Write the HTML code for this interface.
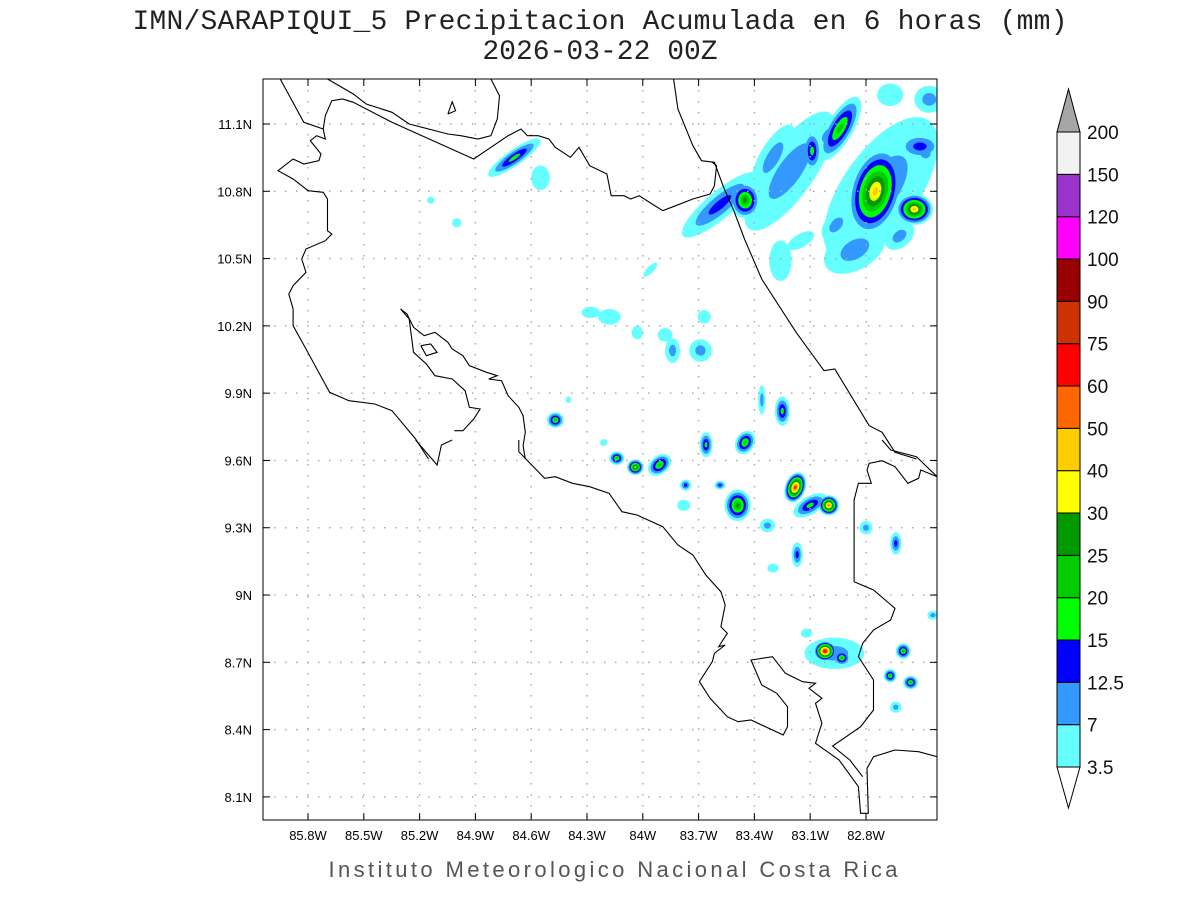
<!DOCTYPE html>
<html><head><meta charset="utf-8">
<style>
html,body{margin:0;padding:0;background:#fff;}
svg{display:block;font-family:"Liberation Sans",sans-serif;}
</style></head>
<body>
<svg id="chart" width="1200" height="900" viewBox="0 0 1200 900">
<text x="600" y="29" text-anchor="middle" font-size="28" fill="#222" font-family="Liberation Mono, monospace" textLength="935">IMN/SARAPIQUI_5 Precipitacion Acumulada en 6 horas (mm)</text>
<text x="600" y="59" text-anchor="middle" font-size="28" fill="#222" font-family="Liberation Mono, monospace">2026-03-22 00Z</text>
<text x="613" y="877" text-anchor="middle" font-size="22" fill="#555" textLength="569">Instituto Meteorologico Nacional Costa Rica</text>
<defs><clipPath id="plotclip"><rect x="263" y="79" width="674" height="741"/></clipPath></defs>
<g id="rain" clip-path="url(#plotclip)"></g>
<g id="grid"></g>
<g id="coast" clip-path="url(#plotclip)"></g>
<rect x="263" y="79" width="674" height="741" fill="none" stroke="#000" stroke-width="1"/>
<g id="axes"></g>
<g id="cbar"></g>
</svg>
<script>
const NS="http://www.w3.org/2000/svg";
// ---- axis tick data ----
const lonTicks=[85.8,85.5,85.2,84.9,84.6,84.3,84.0,83.7,83.4,83.1,82.8];
const lonLabels=["85.8W","85.5W","85.2W","84.9W","84.6W","84.3W","84W","83.7W","83.4W","83.1W","82.8W"];
const latTicks=[11.1,10.8,10.5,10.2,9.9,9.6,9.3,9.0,8.7,8.4,8.1];
const latLabels=["11.1N","10.8N","10.5N","10.2N","9.9N","9.6N","9.3N","9N","8.7N","8.4N","8.1N"];
// ---- colorbar data ----
const levelValues=["3.5","7","12.5","15","20","25","30","40","50","60","75","90","100","120","150","200"];
const levelColors=["#66ffff","#3399ff","#0000ff","#00ff00","#00cc00","#009900","#ffff00","#ffcc00","#ff6600","#ff0000","#cc3300","#990000","#ff00ff","#9933cc","#f2f2f2"];
// ---- precipitation cells: center lon (W), lat (N), radii (deg), rotation, peak level ----
const cellLon=[83.585,83.45,83.21,82.94,82.72,82.75,82.54,82.51,83.09,82.46,82.67,82.86,83.15,83.26,84.69,84.55,85.14,85.0,84.28,84.18,84.03,83.88,83.84,83.67,83.69,83.96,
84.47,84.14,84.04,83.91,83.66,83.45,83.49,83.25,83.18,83.0,83.1,83.17,83.33,82.8,82.64,83.02,82.93,82.97,82.6,82.67,82.56,82.64,83.12,82.44,83.77,83.585,83.78,83.36,84.21,84.4,83.3,82.96,82.62,
83.0,82.48,83.3];
const cellLat=[10.74,10.76,10.89,11.08,10.81,10.8,10.72,11.0,10.98,11.21,11.23,10.54,10.58,10.49,10.95,10.86,10.76,10.66,10.26,10.24,10.17,10.16,10.09,10.24,10.09,10.45,
9.78,9.61,9.57,9.58,9.67,9.68,9.40,9.82,9.48,9.40,9.40,9.18,9.31,9.30,9.23,8.75,8.72,8.74,8.75,8.64,8.61,8.50,8.83,8.91,9.49,9.49,9.40,9.87,9.68,9.87,9.12,10.65,10.60,
11.05,10.97,10.95];
const cellRx=[0.26,0.08,0.38,0.07,0.45,0.14,0.1,0.12,0.05,0.08,0.07,0.18,0.08,0.06,0.17,0.05,0.02,0.025,0.05,0.06,0.03,0.04,0.04,0.035,0.06,0.05,
0.045,0.04,0.045,0.07,0.035,0.05,0.07,0.04,0.055,0.055,0.1,0.03,0.04,0.035,0.03,0.06,0.045,0.16,0.04,0.035,0.04,0.03,0.03,0.03,0.03,0.03,0.035,0.02,0.02,0.015,0.03,0.1,0.09,
0.1,0.06,0.2];
const cellRy=[0.06,0.08,0.11,0.16,0.17,0.2,0.07,0.06,0.09,0.06,0.05,0.09,0.03,0.09,0.035,0.055,0.015,0.02,0.025,0.035,0.03,0.03,0.055,0.03,0.05,0.015,
0.035,0.03,0.035,0.04,0.055,0.055,0.07,0.065,0.07,0.045,0.04,0.055,0.03,0.03,0.05,0.045,0.035,0.07,0.035,0.03,0.03,0.025,0.02,0.02,0.025,0.02,0.025,0.065,0.015,0.015,0.02,0.05,0.05,
0.05,0.05,0.06];
const cellRot=[-40,0,-55,30,-55,15,0,0,0,0,0,-30,-30,0,-35,0,0,0,0,0,0,0,0,0,0,-45,
0,0,0,-40,0,30,0,0,20,0,-30,0,0,0,0,0,0,0,0,0,0,0,0,0,0,0,0,0,0,0,0,-50,-40,
-50,-50,-60];
const cellLevel=[3,6,2,5,2,8,8,3,4,2,1,2,1,1,4,1,1,1,1,1,1,1,2,1,2,1,
5,5,7,5,4,5,6,4,10,9,4,3,2,2,3,11,5,2,5,5,5,2,1,2,3,3,1,2,1,1,1,2,2,
2,2,2];

// ---- projection ----
const X0=308,DX=186,LON0=85.8;
const Y0=124,DY=224.3,LAT0=11.1;
function xs(lonW){return X0+(LON0-lonW)*DX;}
function ys(lat){return Y0+(LAT0-lat)*DY;}
function mk(tag,attrs,parent){const e=document.createElementNS(NS,tag);for(const k in attrs)e.setAttribute(k,attrs[k]);parent.appendChild(e);return e;}

// rain
const rain=document.getElementById('rain');
const maxL=Math.max(...cellLevel);
for(let k=1;k<=maxL;k++){
  for(let i=0;i<cellLon.length;i++){
    const L=cellLevel[i]; if(k>L) continue;
    const f=Math.pow((L-k+1)/L,1.1);
    const cx=xs(cellLon[i]),cy=ys(cellLat[i]);
    const e=mk('ellipse',{cx:cx,cy:cy,rx:cellRx[i]*DX*f,ry:cellRy[i]*DY*f,fill:levelColors[k-1],
      transform:`rotate(${cellRot[i]} ${cx} ${cy})`},rain);
    
    
  }
}

// grid + axes
const grid=document.getElementById('grid'),axes=document.getElementById('axes');
lonTicks.forEach((v,i)=>{
  const x=xs(v);
  const g=mk('line',{x1:x,y1:79,x2:x,y2:820,stroke:'#aaa','stroke-width':1.5,'stroke-dasharray':'1.5,9.5'},grid);
  
  
  mk('line',{x1:x,y1:820,x2:x,y2:813,stroke:'#000'},axes);
  mk('line',{x1:x,y1:79,x2:x,y2:86,stroke:'#000'},axes);
  const t=mk('text',{x:x,y:840,'text-anchor':'middle','font-size':13,fill:'#000'},axes);
  t.textContent=lonLabels[i];
  
  
});
latTicks.forEach((v,i)=>{
  const y=ys(v);
  const g=mk('line',{x1:263,y1:y,x2:937,y2:y,stroke:'#aaa','stroke-width':1.5,'stroke-dasharray':'1.5,9.5'},grid);
  
  
  mk('line',{x1:263,y1:y,x2:270,y2:y,stroke:'#000'},axes);
  mk('line',{x1:930,y1:y,x2:937,y2:y,stroke:'#000'},axes);
  const t=mk('text',{x:252,y:y+5,'text-anchor':'end','font-size':13,fill:'#000'},axes);
  t.textContent=latLabels[i];
  
  
});

// coastlines (zoom coords: x=263+zx/2.326, y=off+zy/3)
const Z1=[
 [[40,0],[95,130],[140,150],[145,180],[125,170],[110,185],[135,225],[130,245],[95,255],[70,240],[35,275],[70,300],[105,335],[140,340],[150,360],[150,455],[160,465],[145,485],[100,510],[90,540],[100,580],[70,620],[60,645],[70,690],[70,740],[100,810],[155,940],[200,965],[260,975],[300,995],[355,1080],[385,1140]],
 [[140,150],[145,110],[160,65],[185,60],[210,70],[300,130],[490,240],[570,170],[600,150],[615,170],[640,170],[665,180],[680,205],[715,235],[735,205],[760,260],[800,285],[810,350],[840,350],[855,360],[875,350],[905,375],[930,395],[960,380],[1000,360],[1040,345],[1050,320],[1055,260],[1045,250]],
 [[150,0],[210,45],[240,75],[300,100],[340,135],[430,165],[460,170],[500,180],[530,170],[545,120],[550,50],[530,0]],
 [[430,105],[440,68],[448,95],[430,105]],
 [[367,800],[390,795],[405,820],[380,830],[367,800]],
 [[955,0],[965,90],[1000,200],[1020,245],[1050,250],[1070,320],[1095,395],[1120,480],[1160,600],[1240,760],[1305,875],[1330,870],[1410,1040],[1440,1060],[1470,1120],[1520,1140]],
 [[320,690],[335,705],[350,745],[375,770],[400,760],[430,790],[440,810],[465,830],[480,860],[520,880],[545,890],[525,900],[555,905],[570,950],[595,985],[605,1010],[610,1060],[605,1100],[610,1140]],
 [[320,690],[340,720],[350,820],[380,855],[400,890],[440,900],[470,935],[480,985],[505,990],[490,1020],[465,1055],[445,1055]]
];
const Z2=[
 [[355,0],[405,75],[415,15],[440,0]],
 [[595,0],[595,35],[655,115],[680,110],[720,130],[760,140],[805,160],[835,215],[870,225],[930,260],[965,315],[1000,345],[1030,405],[1065,455],[1075,495],[1065,560],[1080,580],[1060,620],[1075,615],[1050,640],[1045,665],[1015,725],[1040,775],[1080,830],[1105,845],[1135,840],[1210,885],[1220,860],[1220,800],[1195,760],[1160,735],[1135,660],[1185,650],[1215,700],[1255,725],[1285,730],[1270,745],[1300,775],[1285,790],[1300,850],[1285,910],[1340,960],[1385,1040],[1390,1120],[1408,1120],[1405,985],[1420,950],[1470,930],[1525,935],[1568,950]],
 [[1375,425],[1375,180],[1385,130],[1415,130],[1405,90],[1410,70],[1440,62],[1470,80],[1500,130],[1525,115],[1530,90],[1568,110]],
 [[1375,425],[1420,450],[1470,505],[1460,540],[1420,570],[1395,610],[1385,650],[1420,720],[1420,810],[1390,860],[1325,918],[1365,960],[1395,1010]],
 [[1440,0],[1460,30],[1520,50],[1568,110]]
];
const coast=document.getElementById('coast');
function drawZ(list,off){list.forEach(p=>{
  const pts=p.map(q=>(263+q[0]/2.326).toFixed(1)+','+(off+q[1]/3).toFixed(1)).join(' ');
  const e=mk('polyline',{points:pts,fill:'none',stroke:'#000','stroke-width':1.1},coast);
  
  
});}
drawZ(Z1,79);drawZ(Z2,440);

// colorbar
const cb=document.getElementById('cbar');
const cbx=1057,cbw=23,cbBottom=767,cbTop=132,bh=(cbBottom-cbTop)/levelColors.length;
const lowTri=mk('polygon',{points:`${cbx},${cbBottom} ${cbx+cbw},${cbBottom} ${cbx+cbw/2},808`,fill:'#fff',stroke:'#000'},cb);


const upTri=mk('polygon',{points:`${cbx},${cbTop} ${cbx+cbw},${cbTop} ${cbx+cbw/2},89`,fill:'#a6a6a6',stroke:'#000'},cb);


levelColors.forEach((c,i)=>{
  const r=mk('rect',{x:cbx,y:cbBottom-(i+1)*bh,width:cbw,height:bh,fill:c,stroke:'#000','stroke-width':1},cb);
  
  
});
levelValues.forEach((v,i)=>{
  const t=mk('text',{x:1087,y:cbBottom-i*bh+7,'font-size':19,fill:'#111'},cb);
  t.textContent=v;
  
  
});
</script>
</body></html>
